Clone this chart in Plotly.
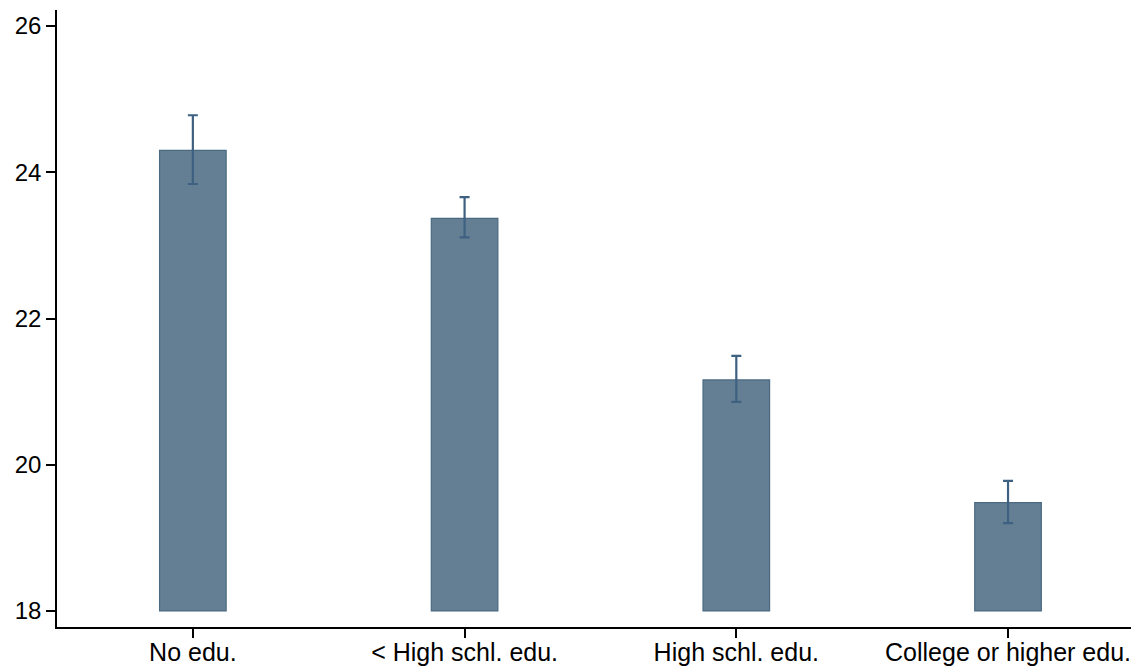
import plotly.graph_objects as go

categories = ["No edu.", "< High schl. edu.", "High schl. edu.", "College or higher edu."]
means = [24.30, 23.37, 21.16, 19.48]
ci_upper = [24.78, 23.66, 21.49, 19.78]
ci_lower = [23.84, 23.11, 20.86, 19.20]
baseline = 18
y_ticks = [18, 20, 22, 24, 26]

xpos = list(range(len(categories)))
heights = [m - baseline for m in means]
err_plus = [u - m for u, m in zip(ci_upper, means)]
err_minus = [m - l for m, l in zip(means, ci_lower)]

fig = go.Figure()
fig.add_trace(go.Bar(
    x=xpos, y=heights, base=[baseline] * len(means), width=0.245,
    marker=dict(color="#647f94", line=dict(color="#4a6a82", width=1.2)),
    error_y=dict(type="data", symmetric=False, array=err_plus, arrayminus=err_minus,
                 color="#3e6181", thickness=2.2, width=5),
    showlegend=False,
))

# page body has an 8px default margin, so the figure is sized to fit the window
fig.update_layout(
    width=1131, height=663,
    margin=dict(l=49, r=0, t=2, b=44),
    paper_bgcolor="white", plot_bgcolor="white",
    font=dict(family="Liberation Sans, Arial, sans-serif", size=24, color="black"),
)
fig.update_xaxes(
    range=[-0.5, 3.482], tickmode="array", tickvals=xpos, ticktext=categories,
    showline=True, linecolor="black", linewidth=1.5, ticks="outside", ticklen=9,
    tickwidth=1.5, tickcolor="black", showgrid=False, zeroline=False,
    tickfont=dict(size=25), automargin=False, ticklabelstandoff=-7,
)
fig.update_yaxes(
    range=[17.78, 26.22], tickmode="array", tickvals=y_ticks,
    showline=True, linecolor="black", linewidth=1.5, ticks="outside", ticklen=9,
    tickwidth=1.5, tickcolor="black", showgrid=False, zeroline=False,
    tickfont=dict(size=24), automargin=False,
)

fig.write_html("out.html")
